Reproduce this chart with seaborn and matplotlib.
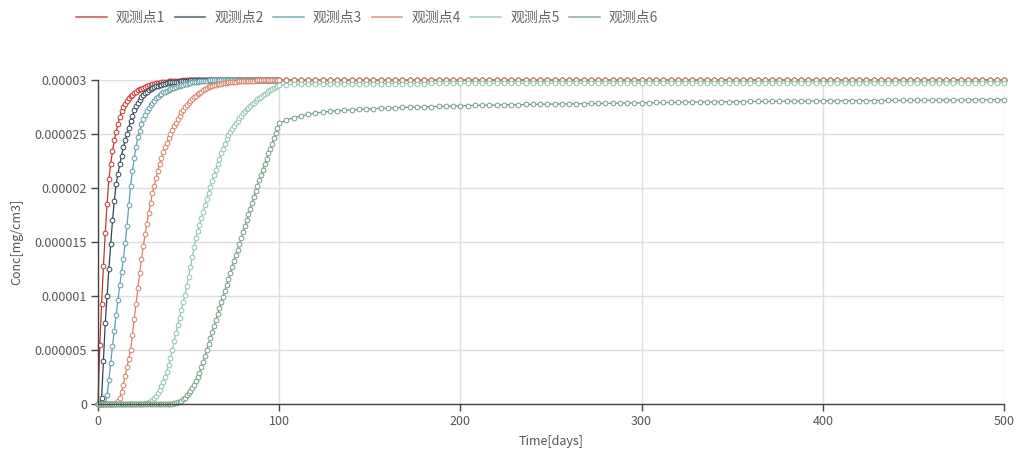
import matplotlib
matplotlib.use("Agg")
import matplotlib.pyplot as plt
import seaborn as sns
import pandas as pd
from matplotlib.lines import Line2D

# ---------------- data (concentration in 1e-6 mg/cm3) ----------------
# daily readings for days 0..100, then every 4 days 104..500
days = list(range(0, 101)) + list(range(104, 501, 4))

series_names = ["观测点1", "观测点2", "观测点3", "观测点4", "观测点5", "观测点6"]
colors = ["#c23531", "#2f4554", "#61a0a8", "#d48265", "#91c7ae", "#749f83"]

p1 = [0, 5.5, 9.3, 12.8, 15.8, 18.5, 20.8, 22.2, 23.4, 24.4,
      25.2, 25.9, 26.6, 27.1, 27.5, 27.8, 28.1, 28.3, 28.5, 28.65,
      28.8, 28.93, 29.05, 29.13, 29.2, 29.28, 29.35, 29.43, 29.5, 29.55,
      29.6, 29.64, 29.68, 29.72, 29.75, 29.78, 29.8, 29.83, 29.85, 29.87,
      29.88, 29.9, 29.91, 29.92, 29.93, 29.94, 29.95, 29.96, 29.97, 29.97,
      29.98, 29.99, 30.0, 30.0, 30.0, 30.0, 30.0, 30.0, 30.0, 30.0,
      30.0, 30.0, 30.0, 30.0, 30.0, 30.0, 30.0, 30.0, 30.0, 30.0,
      30.0, 30.0, 30.0, 30.0, 30.0, 30.0, 30.0, 30.0, 30.0, 30.0,
      30.0, 30.0, 30.0, 30.0, 30.0, 30.0, 30.0, 30.0, 30.0, 30.0,
      30.0, 30.0, 30.0, 30.0, 30.0, 30.0, 30.0, 30.0, 30.0, 30.0,
      30.0]
p2 = [0, 0, 0.6, 4.0, 7.5, 10.0, 12.5, 14.8, 17.0, 18.8,
      20.4, 21.3, 22.2, 23.0, 23.8, 24.4, 25.0, 25.6, 26.2, 26.7,
      27.2, 27.55, 27.9, 28.15, 28.4, 28.6, 28.8, 28.93, 29.05, 29.15,
      29.25, 29.33, 29.4, 29.46, 29.52, 29.57, 29.62, 29.66, 29.7, 29.74,
      29.77, 29.8, 29.82, 29.84, 29.86, 29.88, 29.9, 29.92, 29.93, 29.94,
      29.95, 29.96, 29.97, 29.98, 29.98, 29.99, 29.99, 30.0, 30.0, 30.0,
      30.0, 30.0, 30.0, 30.0, 30.0, 30.0, 30.0, 30.0, 30.0, 30.0,
      30.0, 30.0, 30.0, 30.0, 30.0, 30.0, 30.0, 30.0, 30.0, 30.0,
      30.0, 30.0, 30.0, 30.0, 30.0, 30.0, 30.0, 30.0, 30.0, 30.0,
      30.0, 30.0, 30.0, 30.0, 30.0, 30.0, 30.0, 30.0, 30.0, 30.0,
      30.0]
p3 = [0, 0, 0, 0, 0.1, 0.8, 2.2, 3.8, 5.4, 6.8,
      8.2, 9.6, 11.0, 12.2, 13.4, 14.9, 16.5, 18.4, 20.2, 21.6,
      22.8, 23.8, 24.7, 25.3, 25.9, 26.4, 26.8, 27.1, 27.4, 27.65,
      27.9, 28.1, 28.3, 28.45, 28.6, 28.73, 28.85, 28.93, 29.0, 29.08,
      29.15, 29.22, 29.28, 29.34, 29.4, 29.45, 29.5, 29.55, 29.6, 29.65,
      29.7, 29.74, 29.78, 29.81, 29.84, 29.86, 29.88, 29.9, 29.92, 29.93,
      29.95, 29.96, 29.97, 29.97, 29.98, 29.98, 29.99, 29.99, 30.0, 30.0,
      30.0, 30.0, 30.0, 30.0, 30.0, 30.0, 30.0, 30.0, 30.0, 30.0,
      30.0, 30.0, 30.0, 30.0, 30.0, 30.0, 30.0, 30.0, 30.0, 30.0,
      30.0, 30.0, 30.0, 30.0, 30.0, 30.0, 30.0, 30.0, 30.0, 30.0,
      30.0]
p4 = [0, 0, 0, 0, 0, 0, 0, 0, 0, 0,
      0.1, 0.3, 0.6, 1.1, 1.8, 2.6, 3.4, 4.2, 5.0, 6.4,
      7.9, 9.3, 10.7, 12.1, 13.4, 14.6, 15.7, 16.7, 17.7, 18.6,
      19.5, 20.2, 20.9, 21.6, 22.2, 22.8, 23.3, 23.8, 24.2, 24.6,
      25.0, 25.35, 25.7, 26.05, 26.4, 26.7, 27.0, 27.25, 27.5, 27.7,
      27.9, 28.08, 28.25, 28.4, 28.55, 28.68, 28.8, 28.93, 29.05, 29.15,
      29.25, 29.33, 29.4, 29.45, 29.5, 29.55, 29.6, 29.63, 29.66, 29.69,
      29.72, 29.75, 29.77, 29.79, 29.81, 29.83, 29.85, 29.87, 29.88, 29.89,
      29.9, 29.91, 29.92, 29.93, 29.94, 29.95, 29.95, 29.96, 29.96, 29.97,
      29.97, 29.98, 29.98, 29.98, 29.98, 29.99, 29.99, 29.99, 29.99, 30.0,
      30.0]
p5 = [0, 0, 0, 0, 0, 0, 0, 0, 0, 0,
      0, 0, 0, 0, 0, 0, 0, 0, 0, 0,
      0, 0, 0, 0, 0, 0, 0.05, 0.1, 0.15, 0.25,
      0.35, 0.55, 0.75, 1.0, 1.3, 1.65, 2.0, 2.5, 3.0, 3.6,
      4.3, 5.0, 5.8, 6.6, 7.3, 8.0, 8.7, 9.4, 10.1, 10.9,
      11.8, 12.7, 13.6, 14.5, 15.4, 16.0, 16.6, 17.2, 17.8, 18.4,
      19.0, 19.55, 20.1, 20.65, 21.2, 21.7, 22.2, 22.7, 23.2, 23.65,
      24.1, 24.5, 24.9, 25.2, 25.5, 25.75, 26.0, 26.25, 26.5, 26.7,
      26.9, 27.1, 27.3, 27.45, 27.6, 27.75, 27.9, 28.05, 28.2, 28.33,
      28.45, 28.58, 28.7, 28.83, 28.95, 29.05, 29.15, 29.25, 29.35, 29.45,
      29.55]
p6 = [0, 0, 0, 0, 0, 0, 0, 0, 0, 0,
      0, 0, 0, 0, 0, 0, 0, 0, 0, 0,
      0, 0, 0, 0, 0, 0, 0, 0, 0, 0,
      0, 0, 0, 0, 0, 0, 0, 0, 0, 0,
      0, 0, 0.05, 0.1, 0.15, 0.22, 0.3, 0.45, 0.6, 0.8,
      1.0, 1.25, 1.5, 1.8, 2.1, 2.5, 2.9, 3.4, 3.9, 4.45,
      5.0, 5.55, 6.1, 6.65, 7.2, 7.75, 8.3, 8.85, 9.4, 9.95,
      10.5, 11.05, 11.6, 12.15, 12.7, 13.25, 13.8, 14.3, 14.8, 15.35,
      15.9, 16.45, 17.0, 17.55, 18.1, 18.65, 19.2, 19.7, 20.2, 20.7,
      21.2, 21.7, 22.2, 22.7, 23.2, 23.65, 24.1, 24.6, 25.1, 25.55,
      26.0]

# tails, days 104..500 every 4 days
tail_top = [30.0, 30.0, 30.0, 30.0, 30.0, 30.0, 30.0, 30.0, 30.0, 30.0,
            30.0, 30.0, 30.0, 30.0, 30.0, 30.0, 30.0, 30.0, 30.0, 30.0,
            30.0, 30.0, 30.0, 30.0, 30.0, 30.0, 30.0, 30.0, 30.0, 30.0,
            30.0, 30.0, 30.0, 30.0, 30.0, 30.0, 30.0, 30.0, 30.0, 30.0,
            30.0, 30.0, 30.0, 30.0, 30.0, 30.0, 30.0, 30.0, 30.0, 30.0,
            30.0, 30.0, 30.0, 30.0, 30.0, 30.0, 30.0, 30.0, 30.0, 30.0,
            30.0, 30.0, 30.0, 30.0, 30.0, 30.0, 30.0, 30.0, 30.0, 30.0,
            30.0, 30.0, 30.0, 30.0, 30.0, 30.0, 30.0, 30.0, 30.0, 30.0,
            30.0, 30.0, 30.0, 30.0, 30.0, 30.0, 30.0, 30.0, 30.0, 30.0,
            30.0, 30.0, 30.0, 30.0, 30.0, 30.0, 30.0, 30.0, 30.0, 30.0]
t5 = [29.58, 29.6, 29.61, 29.62, 29.62, 29.63, 29.63, 29.64, 29.64, 29.65,
      29.65, 29.65, 29.66, 29.66, 29.66, 29.66, 29.67, 29.67, 29.67, 29.67,
      29.68, 29.68, 29.68, 29.68, 29.68, 29.69, 29.69, 29.69, 29.69, 29.69,
      29.7, 29.7, 29.7, 29.7, 29.7, 29.7, 29.7, 29.7, 29.7, 29.7,
      29.7, 29.7, 29.71, 29.71, 29.71, 29.71, 29.71, 29.71, 29.71, 29.71,
      29.71, 29.71, 29.71, 29.71, 29.71, 29.72, 29.72, 29.72, 29.72, 29.72,
      29.72, 29.72, 29.72, 29.72, 29.72, 29.72, 29.72, 29.72, 29.72, 29.72,
      29.73, 29.73, 29.73, 29.73, 29.73, 29.73, 29.73, 29.73, 29.73, 29.73,
      29.73, 29.73, 29.73, 29.73, 29.73, 29.74, 29.74, 29.74, 29.74, 29.74,
      29.74, 29.74, 29.74, 29.74, 29.74, 29.75, 29.75, 29.75, 29.75, 29.75]
t6 = [26.3, 26.5, 26.68, 26.82, 26.95, 27.03, 27.1, 27.15, 27.2, 27.24,
      27.28, 27.32, 27.35, 27.38, 27.41, 27.44, 27.46, 27.48, 27.5, 27.52,
      27.54, 27.56, 27.58, 27.6, 27.61, 27.63, 27.64, 27.66, 27.67, 27.69,
      27.7, 27.71, 27.73, 27.74, 27.75, 27.76, 27.77, 27.78, 27.79, 27.8,
      27.81, 27.82, 27.83, 27.84, 27.85, 27.86, 27.87, 27.88, 27.89, 27.9,
      27.91, 27.92, 27.92, 27.93, 27.94, 27.95, 27.95, 27.96, 27.97, 27.97,
      27.98, 27.99, 27.99, 28.0, 28.01, 28.01, 28.02, 28.02, 28.03, 28.04,
      28.04, 28.05, 28.05, 28.06, 28.06, 28.07, 28.07, 28.08, 28.08, 28.09,
      28.09, 28.1, 28.1, 28.11, 28.11, 28.12, 28.12, 28.12, 28.13, 28.13,
      28.14, 28.14, 28.15, 28.15, 28.15, 28.16, 28.16, 28.17, 28.17, 28.18]

series_values = [p1 + tail_top, p2 + tail_top, p3 + tail_top,
                 p4 + tail_top, p5 + t5, p6 + t6]

yticks = [0, 0.000005, 0.00001, 0.000015, 0.00002, 0.000025, 0.00003]
ytick_labels = ["0", "0.000005", "0.00001", "0.000015", "0.00002", "0.000025", "0.00003"]
xticks = [0, 100, 200, 300, 400, 500]

# ---------------- figure ----------------
sns.set_style("whitegrid")
plt.rcParams["font.family"] = ["Noto Sans CJK SC", "DejaVu Sans"]

fig = plt.figure(figsize=(10.19, 4.58), dpi=100)
ax = fig.add_axes([98 / 1019, 1 - 404 / 458, (1004 - 98) / 1019, (404 - 80) / 458])

frames = []
for name, vals in zip(series_names, series_values):
    n = min(len(days), len(vals))
    frames.append(pd.DataFrame({"day": days[:n],
                                "conc": [v * 1e-6 for v in vals[:n]],
                                "series": name}))
df = pd.concat(frames, ignore_index=True)

for name, col in zip(series_names, colors):
    sub = df[df["series"] == name]
    sns.lineplot(data=sub, x="day", y="conc", color=col, ax=ax, linewidth=0.9,
                 marker="o", markersize=3.4, markerfacecolor="white",
                 markeredgecolor=col, markeredgewidth=0.7, clip_on=False,
                 legend=False, estimator=None, sort=False)

ax.set_xlim(0, 500)
ax.set_ylim(0, 0.00003)
ax.set_xticks(xticks)
ax.set_xticklabels([str(x) for x in xticks])
ax.set_yticks(yticks)
ax.set_yticklabels(ytick_labels)

ax.grid(True, color="#dedede", linewidth=1.0)
for side in ["top", "right"]:
    ax.spines[side].set_visible(False)
for side in ["left", "bottom"]:
    ax.spines[side].set_visible(True)
    ax.spines[side].set_color("#444444")
    ax.spines[side].set_linewidth(1.0)
ax.tick_params(axis="both", which="major", length=5, width=1, color="#444444",
               labelsize=9, labelcolor="#555555", direction="out", pad=3)
ax.tick_params(left=True, bottom=True)

ax.set_xlabel("Time[days]", fontsize=9, color="#555555", labelpad=5)
ax.set_ylabel("Conc[mg/cm3]", fontsize=9, color="#555555", labelpad=8)

handles = [Line2D([0], [0], color=c, linewidth=1.5, alpha=0.65) for c in colors]
fig.legend(handles, series_names, loc="center left",
           bbox_to_anchor=(76 / 1019, 1 - 18 / 458), ncol=6, frameon=False,
           borderaxespad=0, borderpad=0,
           fontsize=10, handlelength=2.2, handletextpad=0.65, columnspacing=0.7,
           labelcolor="#666666")

fig.savefig("out.png", dpi=100)
